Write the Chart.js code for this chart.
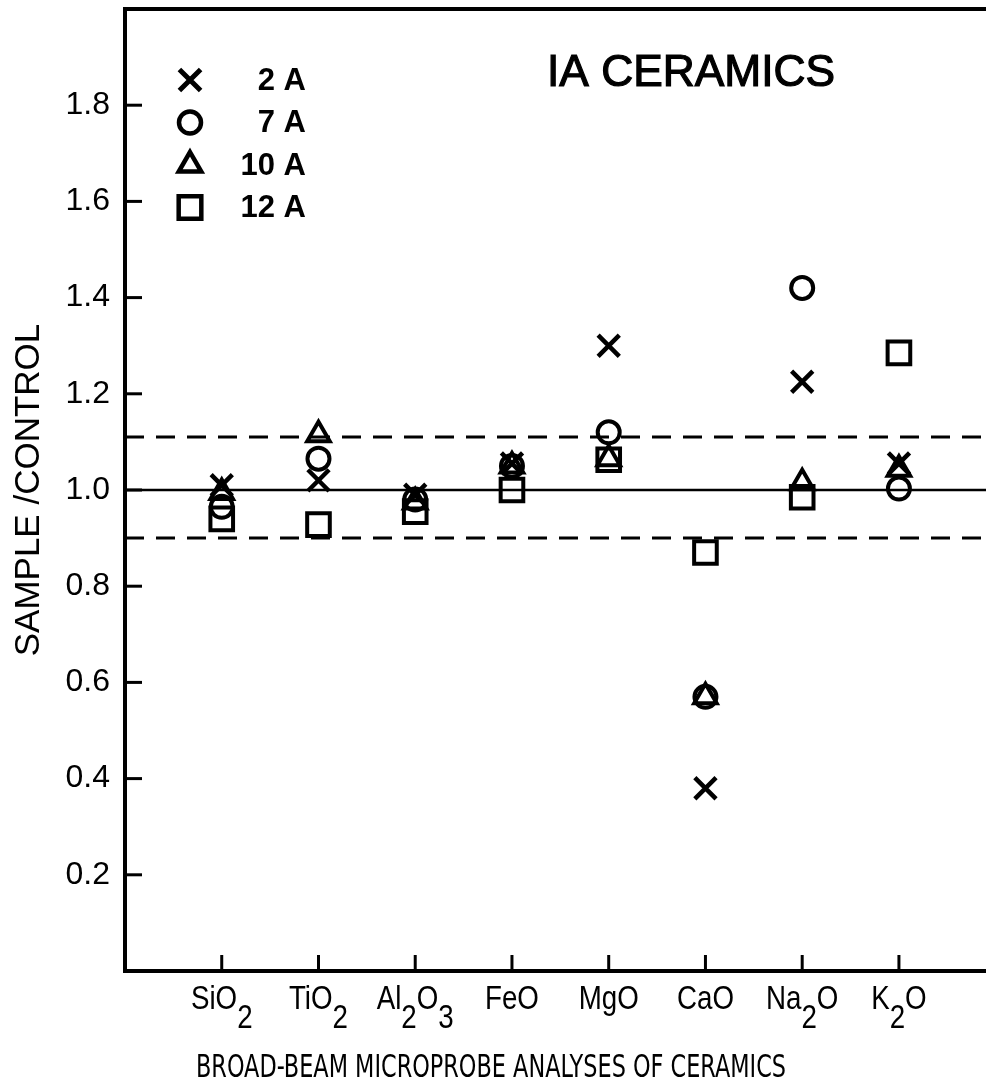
<!DOCTYPE html>
<html>
<head>
<meta charset="utf-8">
<script src="https://cdn.jsdelivr.net/npm/chart.js@4.4.0/dist/chart.umd.min.js"></script>
<style>
  html, body { margin: 0; padding: 0; background: #ffffff; }
  #wrap { width: 986px; height: 1088px; }
</style>
</head>
<body>
<div id="wrap"><canvas id="c" width="986" height="1088"></canvas></div>
<script>
// ---- data ----
const categories = ['SiO2', 'TiO2', 'Al2O3', 'FeO', 'MgO', 'CaO', 'Na2O', 'K2O'];
const seriesLabels = ['2 A', '7 A', '10 A', '12 A'];
const values2A  = [1.01, 1.02, 0.99, 1.055, 1.30, 0.38, 1.225, 1.055];
const values7A  = [0.965, 1.065, 0.98, 1.05, 1.12, 0.57, 1.42, 1.003];
const values10A = [0.995, 1.115, 0.975, 1.05, 1.065, 0.57, 1.015, 1.043];
const values12A = [0.94, 0.928, 0.955, 1.0, 1.063, 0.87, 0.985, 1.285];
const yTickValues = [0.2, 0.4, 0.6, 0.8, 1.0, 1.2, 1.4, 1.6, 1.8];
const referenceSolid = 1.0;
const referenceDashed = [1.11, 0.9];
const chartTitle = 'IA CERAMICS';
const yAxisTitle = 'SAMPLE /CONTROL';
const xAxisTitle = 'BROAD-BEAM MICROPROBE ANALYSES OF CERAMICS';

// ---- styling ----
const X_MIN = -1, X_MAX = 7.9, Y_MIN = 0, Y_MAX = 2.0;
const INK = '#000000';

function toPoints(vals) { return vals.map((v, i) => ({ x: i, y: v })); }

const markerDefs = [
  { style: 'crossRot', radius: 15, width: 4.5 },
  { style: 'circle', radius: 11, width: 4 },
  { style: 'triangle', radius: 13, width: 4 },
  { style: 'rect', radius: 16, width: 4 }
];
const seriesValues = [values2A, values7A, values10A, values12A];

const datasets = [];
datasets.push({
  type: 'line', label: 'ref', data: [{ x: X_MIN, y: referenceSolid }, { x: X_MAX, y: referenceSolid }],
  borderColor: INK, borderWidth: 2.5, pointRadius: 0, order: 5, isRef: true
});
referenceDashed.forEach(lvl => {
  datasets.push({
    type: 'line', label: 'ref', data: [{ x: X_MIN, y: lvl }, { x: X_MAX, y: lvl }],
    borderColor: INK, borderWidth: 3, borderDash: [19, 12], pointRadius: 0, order: 5, isRef: true
  });
});
seriesValues.forEach((vals, k) => {
  const m = markerDefs[k];
  datasets.push({
    type: 'scatter', label: seriesLabels[k], data: toPoints(vals),
    pointStyle: m.style, pointRadius: m.radius, pointHoverRadius: m.radius,
    borderWidth: m.width, pointBorderWidth: m.width, pointHoverBorderWidth: m.width,
    borderColor: INK, pointBorderColor: INK,
    backgroundColor: 'rgba(0,0,0,0)', pointBackgroundColor: 'rgba(0,0,0,0)',
    order: 1
  });
});

function noPad(s) { s.paddingTop = 0; s.paddingBottom = 0; s.paddingLeft = 0; s.paddingRight = 0; }

const decorPlugin = {
  id: 'decor',
  afterDraw(chart) {
    const ctx = chart.ctx;
    const ca = chart.chartArea;
    const xs = chart.scales.x, ys = chart.scales.y;
    ctx.save();
    ctx.strokeStyle = INK; ctx.fillStyle = INK;
    // top frame line
    ctx.lineWidth = 4;
    ctx.beginPath(); ctx.moveTo(ca.left - 2, ca.top); ctx.lineTo(chart.width, ca.top); ctx.stroke();
    // inward y ticks
    ctx.lineWidth = 3;
    yTickValues.forEach(v => {
      const y = ys.getPixelForValue(v);
      ctx.beginPath(); ctx.moveTo(ca.left, y); ctx.lineTo(ca.left + 17, y); ctx.stroke();
    });
    // inward x ticks
    categories.forEach((c, i) => {
      const x = xs.getPixelForValue(i);
      ctx.beginPath(); ctx.moveTo(x, ca.bottom); ctx.lineTo(x, ca.bottom - 16); ctx.stroke();
    });
    // x category labels with lowered subscripts
    categories.forEach((c, i) => {
      const x = xs.getPixelForValue(i);
      const parts = c.match(/[A-Za-z]+|[0-9]+/g);
      const squeeze = 0.84;
      ctx.font = '33px "Liberation Sans", Arial, sans-serif';
      let total = 0;
      const widths = parts.map(p => { const w = ctx.measureText(p).width; total += w; return w; });
      ctx.save();
      ctx.translate(x, 0);
      ctx.scale(squeeze, 1);
      let cx = -total / 2;
      ctx.textAlign = 'left';
      ctx.textBaseline = 'alphabetic';
      parts.forEach((p, j) => {
        const isDigit = /[0-9]/.test(p);
        ctx.fillText(p, cx, isDigit ? ca.bottom + 57 : ca.bottom + 38);
        cx += widths[j];
      });
      ctx.restore();
    });
    // chart title inside plot
    ctx.font = '45px "Liberation Sans", Arial, sans-serif';
    ctx.textAlign = 'center'; ctx.textBaseline = 'alphabetic';
    const tw = ctx.measureText(chartTitle).width;
    ctx.save();
    ctx.translate(691, 86);
    ctx.scale(288 / tw, 1);
    ctx.lineWidth = 1.2; ctx.strokeStyle = INK;
    ctx.fillText(chartTitle, 0, 0);
    ctx.strokeText(chartTitle, 0, 0);
    ctx.restore();
    // x axis description
    ctx.font = '32px "DejaVu Sans Condensed", "DejaVu Sans", sans-serif';
    const sw = ctx.measureText(xAxisTitle).width;
    ctx.save();
    ctx.translate(491, 1077);
    ctx.scale(590 / sw, 1);
    ctx.fillText(xAxisTitle, 0, 0);
    ctx.restore();
    // legend
    const legendX = 190, legendTextX = 306, legendY0 = 80, legendDY = 42.5;
    chart.data.datasets.filter(d => !d.isRef).forEach((d, k) => {
      const y = legendY0 + k * legendDY;
      const m = markerDefs[k];
      ctx.save();
      ctx.strokeStyle = INK; ctx.fillStyle = 'rgba(0,0,0,0)';
      ctx.lineWidth = m.width + 0.5;
      Chart.helpers.drawPoint(ctx, { pointStyle: m.style, radius: m.radius, borderWidth: m.width + 0.5, rotation: 0 }, legendX, y);
      ctx.restore();
      ctx.fillStyle = INK;
      ctx.font = 'bold 31px "Liberation Sans", Arial, sans-serif';
      ctx.textAlign = 'right'; ctx.textBaseline = 'middle';
      ctx.fillText(d.label, legendTextX, y + 1);
    });
    ctx.restore();
  }
};

new Chart(document.getElementById('c'), {
  data: { datasets },
  options: {
    responsive: false,
    animation: false,
    devicePixelRatio: 1,
    layout: { autoPadding: false, padding: { top: 9, right: 0, left: 0, bottom: 0 } },
    plugins: { legend: { display: false }, tooltip: { enabled: false } },
    scales: {
      x: {
        type: 'linear', position: 'bottom', min: X_MIN, max: X_MAX,
        afterFit(s) { s.height = 117; noPad(s); },
        ticks: { display: false },
        grid: { display: false, drawTicks: false },
        border: { display: true, width: 4, color: INK }
      },
      y: {
        type: 'linear', position: 'left', min: Y_MIN, max: Y_MAX,
        afterFit(s) { s.width = 125; noPad(s); },
        afterBuildTicks(s) { s.ticks = yTickValues.map(v => ({ value: v })); },
        ticks: {
          color: INK, padding: 15,
          font: { family: '"Liberation Sans", Arial, sans-serif', size: 32 },
          callback: v => Number(v).toFixed(1)
        },
        grid: { display: false, drawTicks: false },
        border: { display: true, width: 4, color: INK },
        title: {
          display: true, text: yAxisTitle, color: INK,
          font: { family: '"Liberation Sans", Arial, sans-serif', size: 35 },
          padding: { top: 8, bottom: 0 }
        }
      }
    }
  },
  plugins: [decorPlugin]
});
</script>
</body>
</html>
